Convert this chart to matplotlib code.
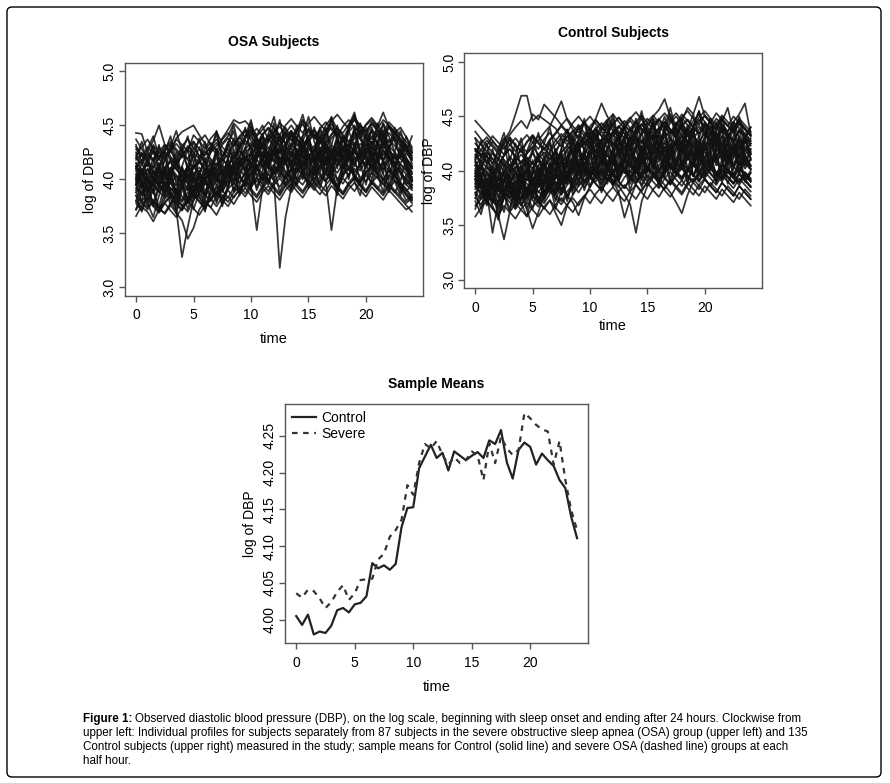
import numpy as np
import matplotlib
matplotlib.use("Agg")
import matplotlib.pyplot as plt
from matplotlib.patches import FancyBboxPatch

plt.rcParams['font.family'] = ['Liberation Sans', 'DejaVu Sans']

# half-hourly log(DBP) profiles, stored in hundredths
osa_profiles = [
    [405,398,410,402,395,400,408,399,404,412,401,396,405,410,403,412,409,415,420,418,414,425,430,421,426,418,424,429,420,417,426,431,424,419,428,425,430,422,427,433,428,421,425,431,427,419,424,416,410],
    [443,442,425,418,430,421,428,437,432,426,441,435,429,438,444,433,440,452,446,439,448,441,450,436,444,452,447,440,446,455,449,441,438,450,457,446,443,451,458,449,444,452,447,455,450,443,448,439,430],
    [388,380,374,381,372,369,378,384,376,370,381,387,379,374,385,390,383,392,389,398,394,401,396,405,399,393,402,408,400,395,404,409,403,398,407,401,396,405,410,402,398,406,401,395,404,399,392,386,380],
    [398,392,401,395,388,396,390,372,328,356,381,392,385,398,404,396,410,405,412,418,414,420,426,417,423,430,422,416,425,431,424,419,427,433,426,421,429,424,418,426,432,425,419,427,421,415,423,418,411],
    [412,406,415,409,402,411,405,414,408,401,410,416,409,403,412,419,413,420,426,419,424,430,423,417,398,318,365,392,408,415,421,414,420,426,419,413,422,428,421,415,424,430,423,417,426,420,414,409,402],
    [395,401,393,387,398,404,396,390,399,405,397,391,400,406,398,410,404,412,418,406,395,353,392,405,412,406,401,410,415,408,402,411,417,410,404,413,419,412,406,415,421,414,408,417,411,405,414,408,400],
    [437,428,420,431,425,418,427,433,426,419,428,435,441,432,426,437,443,436,429,440,446,438,432,441,436,430,439,445,437,431,440,446,439,433,442,448,441,435,444,450,443,437,446,440,434,443,437,430,424],
    [410,418,425,436,450,432,421,414,423,418,411,420,426,419,413,422,428,421,430,436,429,423,432,438,431,425,434,440,433,427,436,442,435,429,438,444,437,431,440,446,439,433,442,436,430,439,433,427,420],
    [385,378,372,380,374,368,376,369,362,345,355,372,380,374,367,378,384,377,386,392,385,379,388,394,387,381,390,396,389,383,392,398,391,385,394,388,382,391,397,390,384,393,387,381,390,384,378,372,376],
    [420,414,423,417,426,432,425,438,444,447,450,441,433,425,431,438,446,455,452,454,448,440,446,453,447,441,450,456,449,443,452,458,451,445,454,460,453,447,456,450,444,453,447,441,450,444,438,432,426],
    [400,407,399,393,402,408,400,394,403,409,401,395,404,410,402,408,414,407,416,422,415,409,418,424,417,411,420,426,419,413,422,428,421,415,424,430,436,429,438,444,450,455,449,462,448,441,435,428,420],
    [402,395,388,396,389,383,392,386,379,388,394,387,396,402,395,389,398,404,397,406,412,405,399,408,414,407,401,410,416,409,403,412,405,398,353,392,405,411,404,398,407,413,406,400,409,403,397,390,382],
    [372,380,386,379,373,382,388,381,375,384,390,383,377,386,392,385,379,388,394,387,396,402,395,389,398,404,397,391,400,406,399,393,402,408,401,395,404,410,403,397,406,412,405,399,408,402,396,389,395],
    [418,424,417,411,420,426,419,413,422,428,421,415,424,430,423,432,438,431,440,446,439,433,442,448,441,435,444,437,431,440,446,439,433,442,448,441,435,444,450,443,437,446,440,434,443,437,431,425,440],
    [392,386,395,401,394,388,397,403,396,390,399,405,398,392,401,407,413,406,415,409,403,412,418,411,405,414,420,413,407,416,422,415,409,418,424,417,411,420,426,419,413,422,416,410,419,413,407,398,392],
    [380,374,370,361,372,378,371,365,374,380,373,367,376,382,375,384,390,383,392,398,391,385,394,400,393,387,396,402,395,389,398,392,386,395,401,394,388,397,403,396,390,399,393,387,396,390,384,378,383],
    [428,421,430,424,418,427,433,426,420,429,435,428,422,431,437,430,424,433,439,432,441,447,440,434,443,449,442,436,445,451,444,438,447,453,446,440,449,455,448,442,451,457,450,444,453,447,441,435,428],
    [410,403,397,406,400,394,385,391,384,378,387,393,386,380,389,395,404,410,403,397,406,412,405,399,408,414,407,401,410,404,398,407,413,406,400,392,386,395,401,394,388,397,403,396,390,399,393,387,381],
    [396,403,409,402,396,405,411,404,398,407,413,406,400,409,415,408,402,411,417,410,419,425,418,412,421,427,420,414,423,429,422,416,425,431,424,418,427,433,426,420,429,435,428,422,431,425,419,413,407],
    [415,409,403,412,406,400,409,415,408,402,411,417,410,404,413,419,412,421,427,420,414,423,429,422,416,425,431,424,418,427,421,415,424,430,423,417,426,432,425,419,428,422,416,425,419,413,422,416,398],
    [378,371,384,377,370,379,385,378,372,381,387,380,374,383,389,382,391,397,390,384,393,399,392,386,395,401,394,388,397,403,396,390,399,405,398,392,401,395,389,398,404,397,391,400,394,388,397,391,384],
    [422,430,437,428,420,432,426,419,431,437,429,422,416,428,434,426,420,431,438,445,436,430,441,447,439,432,443,450,442,436,447,440,433,444,451,443,437,448,455,447,440,451,445,438,449,443,436,429,422],
    [404,397,391,400,394,403,409,402,396,405,398,392,401,407,400,394,403,409,416,424,431,437,430,424,418,427,420,414,423,429,422,416,425,419,413,422,428,421,415,424,418,412,421,427,420,414,423,417,410],
    [388,395,402,395,389,398,392,386,395,401,394,388,397,391,385,394,400,407,413,420,414,408,417,411,405,414,420,413,407,416,410,404,413,419,412,406,415,421,414,408,417,411,405,414,408,402,411,405,399],
    [412,405,399,408,402,411,417,410,404,396,405,411,404,398,407,413,406,415,421,428,434,427,421,430,424,418,427,433,426,420,429,423,417,426,432,425,419,428,434,427,421,430,424,418,427,421,415,424,418],
    [366,376,382,375,369,378,384,377,371,380,386,379,373,382,388,381,375,384,390,396,389,383,392,398,391,385,394,400,393,387,396,402,395,389,398,392,386,395,401,394,388,397,391,385,394,388,382,376,370],
    [430,423,417,426,420,429,435,428,422,431,425,419,428,434,427,421,430,436,429,438,444,437,431,440,446,439,433,442,436,430,439,445,438,432,441,447,440,434,443,437,431,440,434,428,437,431,425,419,413],
    [400,408,414,407,401,410,416,409,403,412,406,400,409,415,408,417,423,416,410,419,425,418,412,421,427,420,414,423,417,411,420,426,419,413,422,416,410,419,425,418,412,421,415,409,418,412,406,400,394],
    [395,410,388,402,415,392,405,380,398,412,389,404,418,395,385,402,420,398,412,430,405,418,440,412,425,408,432,415,440,420,405,428,445,418,430,410,438,422,448,425,410,435,418,442,426,410,432,415,400],
    [412,392,405,420,398,385,408,425,402,390,415,398,380,404,422,396,410,428,405,392,418,435,410,425,442,418,400,426,412,438,420,404,430,415,398,425,440,418,432,412,428,446,420,405,430,415,398,420,405],
    [380,398,375,392,370,388,402,378,395,372,390,405,382,398,378,395,410,388,402,395,415,392,408,425,400,415,395,410,428,405,418,398,412,430,405,392,415,402,420,398,412,428,402,418,395,410,388,402,392],
    [425,405,418,432,410,425,440,415,430,408,422,438,415,402,428,412,432,445,420,438,452,428,442,420,436,455,430,445,425,440,458,435,420,445,432,450,428,445,460,438,425,448,432,452,440,425,445,428,415],
    [402,385,398,375,392,410,388,372,395,380,402,385,370,392,408,388,400,415,395,408,425,402,415,398,412,428,405,390,415,400,422,408,395,418,402,385,410,425,400,415,395,420,405,388,412,398,385,405,395],
    [390,405,420,395,410,385,400,418,392,408,425,400,385,410,428,405,392,418,435,412,400,425,442,418,430,412,428,445,420,405,432,418,440,425,408,435,418,400,428,445,420,408,435,418,430,412,425,410,398],
    [415,398,385,408,392,420,405,388,410,396,382,405,420,398,412,390,408,425,402,418,432,410,400,425,440,415,428,408,420,436,412,425,440,418,405,430,412,428,445,420,435,415,430,445,422,410,428,412,405],
    [372,390,378,365,385,398,375,390,380,395,372,388,402,380,395,375,392,408,385,400,412,390,405,395,410,388,402,418,395,410,392,405,420,398,412,390,405,422,398,385,408,395,412,400,388,405,392,380,386],
    [432,415,428,440,420,408,430,445,425,412,435,420,405,428,442,418,432,450,428,440,455,432,418,442,458,435,448,428,445,460,438,425,448,435,455,440,425,450,462,438,448,430,452,440,428,448,435,420,412],
    [398,415,402,388,410,425,400,388,412,398,385,408,395,418,402,390,412,398,420,408,395,418,432,410,425,440,415,402,428,412,435,420,405,430,415,438,422,408,432,418,440,425,410,435,420,405,428,412,398],
    [408,392,380,398,415,390,402,418,395,382,405,392,410,398,385,402,418,395,410,402,425,412,398,420,435,410,425,412,400,425,438,415,428,405,422,440,418,430,412,428,442,420,432,415,400,425,410,395,402],
    [385,370,392,378,395,408,382,368,390,405,380,395,372,388,400,378,395,410,388,402,392,410,425,398,412,402,418,395,410,425,400,415,392,408,422,398,412,428,405,395,415,400,418,405,392,410,395,385,378],
    [420,435,412,428,405,418,432,410,425,440,415,430,412,425,445,420,435,412,430,448,425,440,418,435,452,428,442,420,438,455,432,448,425,440,458,435,420,445,430,452,438,422,445,430,450,435,420,440,425],
    [395,380,402,388,375,395,410,385,400,378,392,408,388,402,380,398,412,390,405,418,395,412,400,415,430,405,420,398,415,428,410,395,420,435,412,425,402,418,432,410,425,405,420,438,412,425,405,395,390],
    [410,425,398,415,432,405,420,395,412,428,400,418,435,410,425,402,420,438,412,428,445,420,435,410,428,442,418,432,450,425,440,415,435,448,422,438,412,430,448,425,440,418,435,452,428,440,420,432,418],
]

control_profiles = [
    [446,440,434,428,421,430,424,418,427,433,426,420,429,435,428,422,431,437,430,424,433,439,432,426,435,441,434,428,437,443,436,430,439,445,438,432,441,447,440,434,443,437,431,440,434,428,437,431,425],
    [420,414,423,417,411,428,436,452,469,469,446,451,447,443,439,430,424,433,439,432,441,447,440,434,443,449,442,436,445,451,444,438,447,453,446,440,449,455,448,442,451,445,439,448,442,436,445,439,433],
    [358,366,372,365,359,368,362,356,365,371,364,358,367,373,366,360,369,375,368,377,383,376,370,379,385,378,372,381,387,380,374,383,389,382,376,385,391,384,378,387,393,386,380,389,383,377,386,380,374],
    [395,388,381,343,372,380,374,368,377,383,376,370,379,385,378,372,381,387,380,389,395,388,382,391,397,390,384,393,399,392,386,395,401,394,388,397,403,396,390,399,405,398,392,401,395,389,398,392,386],
    [386,380,373,366,359,337,362,370,364,358,367,373,366,360,369,375,368,362,371,377,370,379,385,378,372,381,387,380,374,383,389,382,376,385,391,384,378,387,393,386,380,389,383,377,386,380,374,383,377],
    [402,396,405,399,393,386,392,385,379,364,347,362,378,386,393,399,392,401,407,400,394,403,409,402,396,405,411,404,398,407,413,406,400,409,415,408,402,411,417,410,404,413,407,401,410,404,398,407,401],
    [418,425,431,424,418,427,433,440,446,439,452,447,461,455,449,442,436,428,421,430,436,429,438,444,437,431,440,446,439,433,442,448,441,435,444,450,443,437,446,452,445,439,448,442,436,445,439,433,427],
    [405,412,418,411,405,414,420,413,407,416,422,428,435,441,452,464,447,438,430,424,433,439,432,426,435,441,434,428,437,443,436,430,439,445,438,432,441,435,429,438,444,437,431,440,434,428,437,431,425],
    [380,374,383,377,371,380,386,379,373,382,388,372,365,373,361,350,368,378,386,392,385,394,400,393,387,396,402,395,389,398,404,397,391,400,406,399,393,402,408,401,395,404,398,392,401,395,389,398,392],
    [392,386,379,388,382,376,385,391,384,378,387,381,375,384,390,383,377,371,359,375,386,395,401,394,388,397,403,396,390,399,405,398,392,401,407,400,394,403,397,391,400,406,399,393,402,396,390,399,393],
    [410,416,409,403,412,406,400,409,415,408,402,411,417,410,419,425,432,426,420,429,437,448,462,450,442,436,430,439,445,438,432,441,447,440,434,443,449,442,436,445,451,444,438,447,441,435,444,438,432],
    [398,391,385,394,388,382,391,397,390,384,393,387,381,390,396,389,398,404,397,391,400,394,403,397,391,380,357,374,388,396,402,395,389,398,404,397,391,400,406,399,393,402,396,390,399,393,387,396,390],
    [388,395,389,383,392,386,380,389,395,388,382,391,397,390,399,405,398,392,401,395,404,398,392,401,395,386,378,369,343,372,386,394,400,393,387,396,402,395,389,398,404,397,391,400,394,388,397,391,385],
    [425,419,428,422,416,425,431,424,418,427,433,426,420,429,435,442,448,441,435,444,450,443,437,446,452,445,439,448,454,447,441,450,456,466,449,443,452,446,440,449,455,448,442,451,445,439,448,442,436],
    [395,389,383,392,386,380,389,395,388,382,391,397,390,384,393,399,392,401,407,400,394,403,397,391,400,406,399,393,402,396,390,399,393,387,380,371,361,378,390,398,392,386,395,401,394,388,397,391,385],
    [414,408,417,411,405,414,420,413,407,416,422,415,409,418,424,431,437,430,439,445,438,432,441,447,440,434,443,449,442,436,445,451,444,438,447,453,446,458,452,468,450,444,453,447,441,450,444,438,432],
    [400,394,403,397,391,400,406,399,393,402,408,401,395,404,410,417,423,416,425,431,424,418,427,433,426,420,429,435,428,422,431,437,430,424,433,439,432,426,435,441,434,428,437,443,436,445,452,462,434],
    [375,369,378,372,366,375,381,374,368,377,383,376,370,379,385,378,387,393,386,395,401,394,388,397,391,385,394,400,393,387,396,390,384,393,399,392,386,395,389,383,392,386,380,389,383,377,386,380,374],
    [430,424,418,427,421,415,424,430,423,417,426,432,425,419,428,434,427,436,442,435,429,438,444,437,431,440,446,439,433,442,448,441,435,444,438,432,441,447,440,434,443,437,431,440,434,428,437,431,440],
    [408,401,395,404,398,392,401,407,400,394,403,409,402,411,417,410,404,413,419,426,432,425,419,428,434,427,421,430,424,418,427,433,426,420,429,423,417,426,432,425,419,428,422,416,425,419,413,422,416],
    [390,384,393,387,381,390,384,378,387,393,386,380,389,395,388,382,391,397,404,411,405,399,408,414,407,401,410,404,398,407,413,406,400,409,403,397,406,412,405,399,408,402,396,405,399,393,402,396,390],
    [412,419,413,407,416,410,404,413,419,412,406,415,421,414,408,417,423,430,424,433,439,432,426,435,429,423,432,438,431,425,434,428,422,431,437,430,424,433,427,421,430,436,429,423,432,426,420,429,423],
    [368,374,381,374,368,377,371,365,374,380,373,367,376,382,375,369,378,384,391,385,394,388,382,391,397,390,384,393,387,381,390,396,389,383,392,386,380,389,383,377,386,380,374,383,377,371,380,374,368],
    [397,404,398,392,401,395,389,398,404,397,391,400,406,399,408,414,407,401,410,416,423,417,411,420,426,419,413,422,428,421,415,424,418,412,421,427,420,414,423,417,411,420,426,419,413,422,416,410,404],
    [420,413,407,416,410,404,413,407,401,410,416,409,403,412,418,411,420,426,433,427,421,430,436,429,423,432,438,431,425,434,440,433,427,436,430,424,433,439,432,426,435,429,423,432,426,420,429,423,417],
    [383,390,384,378,387,381,375,384,390,383,377,386,392,385,379,388,394,400,407,401,395,404,410,403,397,406,412,405,399,408,402,396,405,411,404,398,407,401,395,404,410,403,397,406,400,394,403,397,391],
    [405,398,392,401,395,389,398,404,397,391,400,394,388,397,403,396,405,411,418,412,406,415,421,414,408,417,423,416,410,419,413,407,416,422,415,409,418,412,406,415,421,414,408,417,411,405,414,408,402],
    [436,429,423,432,426,420,429,423,417,426,432,425,419,428,434,441,435,444,450,443,437,446,440,434,443,449,442,436,445,439,433,442,448,441,435,444,438,432,441,447,440,434,443,437,431,440,446,439,433],
    [393,387,381,390,384,378,387,381,375,384,378,372,381,387,380,389,395,388,397,403,396,390,399,405,398,392,401,407,400,394,403,397,391,400,406,399,393,402,396,390,399,393,387,396,390,384,393,387,381],
    [415,409,403,397,406,400,394,403,409,402,396,405,411,404,398,407,413,420,426,420,414,423,429,422,416,425,419,413,422,428,421,415,424,418,412,421,427,420,414,423,417,411,420,414,408,417,411,405,411],
    [392,375,400,385,370,392,380,365,388,402,378,395,410,385,400,415,392,408,425,400,415,432,408,420,438,412,428,405,420,435,410,425,440,415,430,408,425,442,418,432,410,428,445,420,435,412,428,415,402],
    [410,395,382,402,388,375,398,412,390,378,400,415,392,405,420,398,412,430,405,420,435,410,428,442,418,432,410,425,440,415,430,448,422,438,415,430,445,420,435,412,428,442,418,432,410,425,438,415,420],
    [378,392,370,385,362,380,395,372,388,365,382,398,375,390,405,382,398,412,390,405,395,412,425,400,415,392,408,422,398,412,430,405,420,398,415,428,405,420,395,410,425,402,418,395,412,425,400,415,405],
    [400,385,372,390,378,362,385,370,392,378,365,388,402,380,395,410,388,402,420,395,410,425,402,418,395,410,428,405,420,398,415,430,408,422,400,418,432,410,425,402,420,435,410,425,405,418,430,408,415],
    [388,402,415,392,405,380,398,412,385,400,375,392,408,385,400,418,392,410,425,402,418,395,412,430,405,420,398,415,432,408,425,402,418,435,410,428,405,420,438,412,428,405,422,438,412,428,405,420,412],
    [372,360,382,368,355,378,365,385,370,358,380,395,372,388,365,382,400,378,392,408,385,402,380,398,412,390,405,382,400,415,392,408,385,402,418,395,410,388,405,420,395,410,388,405,418,395,408,390,398],
    [420,402,415,398,410,425,400,415,430,405,420,398,412,428,405,420,438,412,428,445,420,435,412,430,448,425,440,418,435,450,428,442,420,438,452,430,445,422,440,455,432,448,425,442,428,445,430,418,425],
    [395,410,388,402,382,398,412,390,405,380,398,415,392,408,385,402,420,398,415,405,422,440,415,430,408,425,440,418,432,410,428,445,420,435,412,430,445,422,438,415,432,448,425,438,418,432,445,425,430],
    [405,390,378,395,382,400,385,372,392,408,385,400,378,395,412,388,405,420,398,412,430,405,420,398,415,432,408,425,400,418,435,410,425,402,420,438,412,428,405,422,440,415,430,408,425,438,412,428,418],
    [385,398,375,390,405,380,395,372,388,402,378,392,408,385,400,378,395,410,388,405,420,395,412,388,405,422,398,415,392,408,425,400,418,395,412,428,402,418,395,410,425,400,415,392,408,422,398,412,405],
    [412,428,405,420,398,415,430,408,422,400,418,435,410,425,405,420,438,415,430,448,425,440,418,435,452,428,442,420,438,455,430,445,422,440,458,435,448,425,442,455,432,448,428,445,458,435,450,430,440],
    [365,380,392,370,385,398,375,390,368,382,395,372,388,402,378,395,372,390,405,382,398,412,390,405,385,400,415,392,408,385,402,418,395,410,388,405,420,398,412,390,405,418,395,410,388,402,415,392,400],
    [398,382,370,388,375,392,405,382,398,375,390,405,385,400,420,395,410,385,402,418,395,412,428,405,420,398,415,432,408,422,400,418,435,410,425,402,420,438,412,428,405,420,435,410,425,402,418,430,410],
    [430,412,425,405,420,435,410,425,402,418,432,410,425,440,415,430,408,425,442,418,435,410,428,445,420,435,412,430,448,425,440,418,435,450,428,442,420,438,452,430,445,422,438,450,428,442,420,435,428],
    [380,365,388,372,395,378,362,385,400,378,392,370,388,405,382,398,375,392,410,388,402,420,395,410,388,405,422,398,412,392,408,425,400,415,392,410,428,402,418,395,412,428,405,420,398,412,425,402,410],
    [408,392,378,398,385,405,390,375,398,412,388,402,380,398,415,392,408,425,400,418,395,412,428,405,420,398,415,430,408,422,400,418,432,410,425,402,418,435,410,425,402,420,435,412,428,405,420,432,415],
    [392,408,385,372,395,410,388,402,378,395,410,385,402,418,395,410,388,405,422,398,415,430,405,422,398,415,432,408,425,402,420,435,410,428,405,422,438,412,428,405,420,435,410,428,402,418,432,408,420],
    [375,390,368,382,358,375,392,368,385,372,388,402,380,395,372,390,405,382,398,415,392,408,385,402,418,395,410,388,405,420,398,412,390,405,422,398,412,390,408,422,398,412,390,405,420,395,410,390,398],
]

# sample means at each half hour
mean_control = [4.005,3.993,4.007,3.980,3.984,3.982,3.992,4.013,4.016,4.010,4.021,4.023,4.032,4.077,4.070,4.074,4.068,4.076,4.126,4.152,4.153,4.206,4.222,4.238,4.220,4.227,4.203,4.229,4.223,4.217,4.223,4.228,4.220,4.244,4.239,4.258,4.214,4.192,4.231,4.241,4.235,4.211,4.226,4.217,4.209,4.190,4.179,4.140,4.111]
mean_severe = [4.036,4.030,4.041,4.039,4.029,4.016,4.024,4.038,4.047,4.027,4.036,4.054,4.055,4.056,4.082,4.090,4.113,4.122,4.136,4.183,4.170,4.213,4.239,4.233,4.243,4.224,4.211,4.221,4.213,4.217,4.229,4.223,4.190,4.240,4.213,4.249,4.233,4.224,4.231,4.281,4.274,4.265,4.259,4.256,4.211,4.243,4.190,4.149,4.122]

x_ticks = [0, 5, 10, 15, 20]
spag_yticks = [3.0, 3.5, 4.0, 4.5, 5.0]
mean_yticks = [4.00, 4.05, 4.10, 4.15, 4.20, 4.25]

fig = plt.figure(figsize=(8.9, 7.83), dpi=100)

# rounded border around the whole figure
fig.patches.append(FancyBboxPatch((7/890, 1-777/783), 874/890, 770/783,
                                  boxstyle="round,pad=0,rounding_size=0.006",
                                  transform=fig.transFigure, fill=False,
                                  edgecolor='black', linewidth=1.0))

box_col = '#555555'


def style_axes(ax, yfmt, xpad):
    for s in ax.spines.values():
        s.set_color(box_col)
        s.set_linewidth(1.0)
    ax.tick_params(axis='both', colors=box_col, length=4, width=1.0,
                   labelcolor='black', labelsize=10)
    ax.tick_params(axis='x', pad=5)
    ax.tick_params(axis='y', pad=2)
    ax.set_xticks(x_ticks)
    ax.set_xlim(-0.96, 24.96)
    ax.yaxis.set_major_formatter(plt.FormatStrFormatter(yfmt))
    for lab in ax.get_yticklabels():
        lab.set_rotation(90)
        lab.set_va('center')
    ax.set_xlabel('time', fontsize=10.5, labelpad=xpad)
    ax.set_ylabel('log of DBP', fontsize=10, labelpad=4)


def spaghetti(ax, profiles, title, xpad):
    for p in profiles:
        t = np.arange(len(p)) * 0.5
        ax.plot(t, np.array(p) / 100.0, color='#111111', lw=1.25, alpha=0.85)
    ax.set_ylim(2.92, 5.08)
    ax.set_yticks(spag_yticks)
    style_axes(ax, '%.1f', xpad)
    ax.set_title(title, fontsize=10, fontweight='bold', pad=12)


ax1 = fig.add_axes([125/890, 1-296/783, 298/890, 233.3/783])
spaghetti(ax1, osa_profiles, 'OSA Subjects', 7)

ax2 = fig.add_axes([464.3/890, 1-288.3/783, 297.4/890, 235/783])
spaghetti(ax2, control_profiles, 'Control Subjects', 3)

ax3 = fig.add_axes([285/890, 1-643.3/783, 303.3/890, 239/783])
t = np.arange(len(mean_control)) * 0.5
ax3.plot(t, mean_control, color='#222222', lw=1.6, label='Control')
ax3.plot(t, mean_severe, color='#333333', lw=1.6, dashes=(2.5, 2.5), label='Severe')
ax3.set_ylim(3.968, 4.293)
ax3.set_yticks(mean_yticks)
style_axes(ax3, '%.2f', 7)
ax3.set_title('Sample Means', fontsize=10, fontweight='bold', pad=12)
ax3.legend(loc='upper left', frameon=False, fontsize=10, handlelength=1.7,
           handletextpad=0.4, labelspacing=0.15, borderaxespad=0.3,
           borderpad=0.2)

# caption, "Figure 1:" in bold
cap_lines = [
    'Observed diastolic blood pressure (DBP), on the log scale, beginning with sleep onset and ending after 24 hours. Clockwise from',
    'upper left: Individual profiles for subjects separately from 87 subjects in the severe obstructive sleep apnea (OSA) group (upper left) and 135',
    'Control subjects (upper right) measured in the study; sample means for Control (solid line) and severe OSA (dashed line) groups at each',
    'half hour.',
]
cap_x = 83/890
cap_y = [719, 733, 747, 761]
cap_size = 8.4
bold = fig.text(cap_x, 1-cap_y[0]/783, 'Figure 1:', fontsize=cap_size,
                fontweight='bold', va='center')
fig.canvas.draw()
bb = bold.get_window_extent()
fig.text(bb.x1/fig.bbox.width + 3/890, 1-cap_y[0]/783, cap_lines[0],
         fontsize=cap_size, va='center')
for line, y in zip(cap_lines[1:], cap_y[1:]):
    fig.text(cap_x, 1-y/783, line, fontsize=cap_size, va='center')

fig.savefig('out.png', dpi=100)
